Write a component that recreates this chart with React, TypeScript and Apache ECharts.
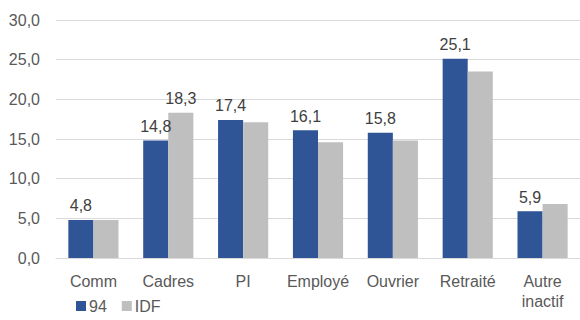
import React, { useEffect, useRef } from "react";
import * as echarts from "echarts";

const categories = ["Comm", "Cadres", "PI", "Employé", "Ouvrier", "Retraité", "Autre\ninactif"];
const values94 = [4.8, 14.8, 17.4, 16.1, 15.8, 25.1, 5.9];
const valuesIDF = [4.8, 18.3, 17.1, 14.6, 14.8, 23.5, 6.8];
const labeledIDF = [false, true, false, false, false, false, false];

const fmt = (v: number) => v.toFixed(1).replace(".", ",");

export default function App() {
  const ref = useRef<HTMLDivElement>(null);
  useEffect(() => {
    if (!ref.current) return;
    const chart = echarts.init(ref.current, null, { renderer: "svg" });
    const font = "Liberation Sans, Arial, sans-serif";
    const labelStyle = {
      show: true,
      position: "top",
      distance: 6,
      color: "#404040",
      fontSize: 16,
      fontFamily: font,
      formatter: (p: any) => fmt(p.value),
    };
    chart.setOption({
      animation: false,
      textStyle: { fontFamily: font },
      grid: { left: 56, right: -6, top: 20, bottom: 62 },
      legend: {
        left: 76,
        top: 298,
        padding: 0,
        itemWidth: 10,
        itemHeight: 10,
        itemGap: 15,
        icon: "rect",
        textStyle: { color: "#595959", fontSize: 16, fontFamily: font, padding: [0, 0, 0, -2] },
        data: ["94", "IDF"],
      },
      xAxis: {
        type: "category",
        data: categories,
        axisLine: { lineStyle: { color: "#D9D9D9", width: 1 } },
        axisTick: { show: false },
        axisLabel: { color: "#595959", fontSize: 16, fontFamily: font, margin: 13, lineHeight: 20, interval: 0 },
      },
      yAxis: {
        type: "value",
        min: 0,
        max: 30,
        interval: 5,
        axisLine: { show: false },
        axisTick: { show: false },
        axisLabel: { color: "#595959", fontSize: 16, fontFamily: font, margin: 16, formatter: (v: number) => fmt(v) },
        splitLine: { lineStyle: { color: "#D9D9D9", width: 1 } },
      },
      series: [
        {
          name: "94",
          type: "bar",
          data: values94,
          barGap: "0%",
          barCategoryGap: "33%",
          itemStyle: { color: "#2F5597" },
          label: labelStyle,
        },
        {
          name: "IDF",
          type: "bar",
          data: valuesIDF.map((v, i) => ({ value: v, label: { show: labeledIDF[i] } })),
          itemStyle: { color: "#BFBFBF" },
          label: { ...labelStyle, show: false },
        },
      ],
    });
    return () => chart.dispose();
  }, []);
  return <div ref={ref} style={{ width: 580, height: 320, position: "absolute", left: 0, top: 0 }} />;
}
